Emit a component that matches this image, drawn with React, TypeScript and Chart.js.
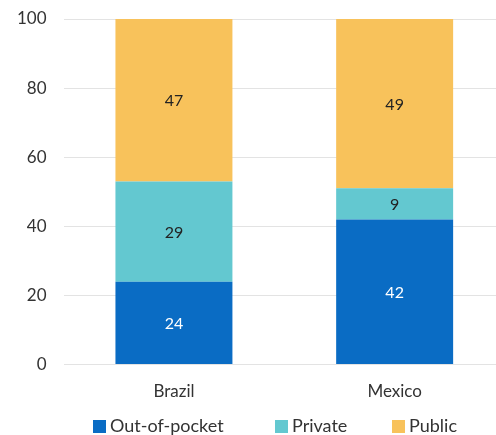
import React, { useEffect, useRef } from "react";
import { Chart, registerables } from "chart.js";

Chart.register(...registerables);

const categories = ["Brazil", "Mexico"];
const outOfPocket = [24, 42];
const privateShare = [29, 9];
const publicShare = [47, 49];
const seriesNames = ["Out-of-pocket", "Private", "Public"];
const seriesColors = ["#0a6cc4", "#63c8d0", "#f8c25b"];
const labelColors = ["#ffffff", "#222222", "#222222"];
const yTicks = [0, 20, 40, 60, 80, 100];

const FONT = "Lato, 'Open Sans', sans-serif";

const valueLabels = {
  id: "valueLabels",
  afterDatasetsDraw(chart: any) {
    const ctx = chart.ctx;
    ctx.save();
    ctx.font = `16px ${FONT}`;
    ctx.textAlign = "center";
    ctx.textBaseline = "middle";
    chart.data.datasets.forEach((ds: any, di: number) => {
      const meta = chart.getDatasetMeta(di);
      meta.data.forEach((el: any, i: number) => {
        const v = ds.data[i];
        const p = el.getProps(["x", "y", "base"], true);
        ctx.fillStyle = labelColors[di];
        ctx.fillText(String(v), p.x, (p.y + p.base) / 2 + 1);
      });
    });
    ctx.restore();
  },
};

const customLegend = {
  id: "customLegend",
  afterDraw(chart: any) {
    const ctx = chart.ctx;
    ctx.save();
    ctx.font = `18px ${FONT}`;
    ctx.textBaseline = "middle";
    ctx.textAlign = "left";
    const starts = [93, 275, 392];
    const cy = 426;
    chart.data.datasets.forEach((ds: any, di: number) => {
      const x = starts[di];
      ctx.fillStyle = ds.backgroundColor;
      ctx.fillRect(x, cy - 6, 13, 13);
      ctx.fillStyle = "#333333";
      ctx.fillText(ds.label, x + 17, cy);
    });
    ctx.restore();
  },
};

export default function App() {
  const ref = useRef<HTMLCanvasElement>(null);
  useEffect(() => {
    document.body.style.margin = "0";
    const data = [outOfPocket, privateShare, publicShare];
    const chart = new Chart(ref.current!, {
      type: "bar",
      data: {
        labels: categories,
        datasets: seriesNames.map((n, i) => ({
          label: n,
          data: data[i],
          backgroundColor: seriesColors[i],
          borderWidth: 0,
          categoryPercentage: 1,
          barPercentage: 0.53,
        })),
      },
      options: {
        animation: false,
        responsive: false,
        maintainAspectRatio: false,
        layout: { padding: { left: 17, right: 0, top: 19, bottom: 24 } },
        plugins: {
          legend: { display: false },
          tooltip: { enabled: false },
        },
        scales: {
          x: {
            stacked: true,
            grid: { display: false },
            border: { display: false },
            ticks: { color: "#333333", font: { family: FONT, size: 17 }, padding: 9 },
          },
          y: {
            stacked: true,
            min: 0,
            max: 100,
            afterBuildTicks: (s: any) => {
              s.ticks = yTicks.map((v) => ({ value: v }));
            },
            grid: {
              color: "#e3e3e3",
              drawTicks: true,
              tickLength: 17,
              tickColor: "rgba(0,0,0,0)",
              lineWidth: 1,
            },
            border: { display: false },
            ticks: { color: "#333333", font: { family: FONT, size: 17 }, padding: 0 },
          },
        },
      },
      plugins: [valueLabels, customLegend],
    });
    return () => chart.destroy();
  }, []);
  return (
    <div style={{ width: 496, height: 435, overflow: "hidden" }}>
      <canvas ref={ref} width={505} height={435} style={{ display: "block" }} />
    </div>
  );
}
